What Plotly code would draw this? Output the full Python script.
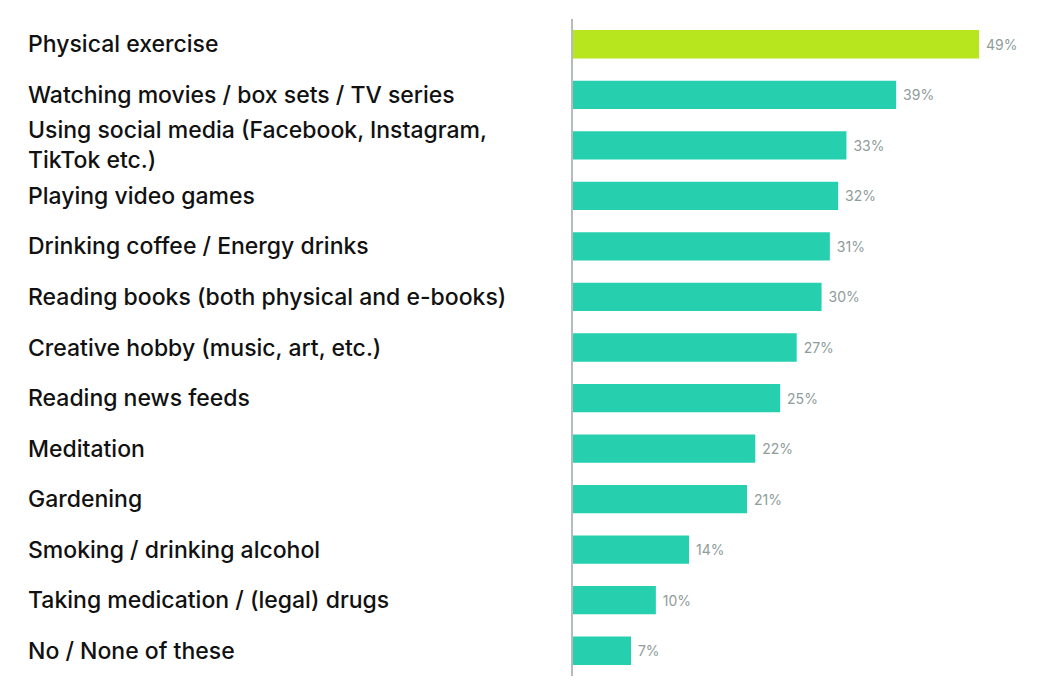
import plotly.graph_objects as go

categories = [
    "Physical exercise",
    "Watching movies / box sets / TV series",
    "Using social media (Facebook, Instagram,<br>TikTok etc.)",
    "Playing video games",
    "Drinking coffee / Energy drinks",
    "Reading books (both physical and e-books)",
    "Creative hobby (music, art, etc.)",
    "Reading news feeds",
    "Meditation",
    "Gardening",
    "Smoking / drinking alcohol",
    "Taking medication / (legal) drugs",
    "No / None of these",
]
values = [49, 39, 33, 32, 31, 30, 27, 25, 22, 21, 14, 10, 7]
highlight_color = "#B8E61E"
base_color = "#26D0AF"
colors = [highlight_color] + [base_color] * (len(values) - 1)

fig = go.Figure()
fig.add_trace(go.Bar(
    x=values,
    y=list(range(len(categories))),
    orientation="h",
    marker=dict(color=colors, line=dict(width=0)),
    width=0.56,
    text=[f" {v}%" for v in values],
    textposition="outside",
    cliponaxis=False,
    textfont=dict(family="Inter", size=14, color="#8E9C9A"),
    hoverinfo="skip",
))

for i, c in enumerate(categories):
    fig.add_annotation(
        x=0, xref="paper", xshift=-547,
        y=i, yref="y",
        text=c, showarrow=False,
        xanchor="left", yanchor="middle", align="left",
        font=dict(family="Inter", size=23, color="#111111", weight=500),
    )

fig.update_layout(
    width=1047, height=685,
    margin=dict(l=565, r=18, t=11, b=17),
    paper_bgcolor="white", plot_bgcolor="white",
    showlegend=False,
    bargap=0.44,
    xaxis=dict(range=[0, 56], visible=False, fixedrange=True),
    yaxis=dict(range=[12.5, -0.5], showticklabels=False, showgrid=False,
               zeroline=False, showline=True, linecolor="#B4BCBC", linewidth=2,
               ticks=""),
)

fig.write_html("out.html")
